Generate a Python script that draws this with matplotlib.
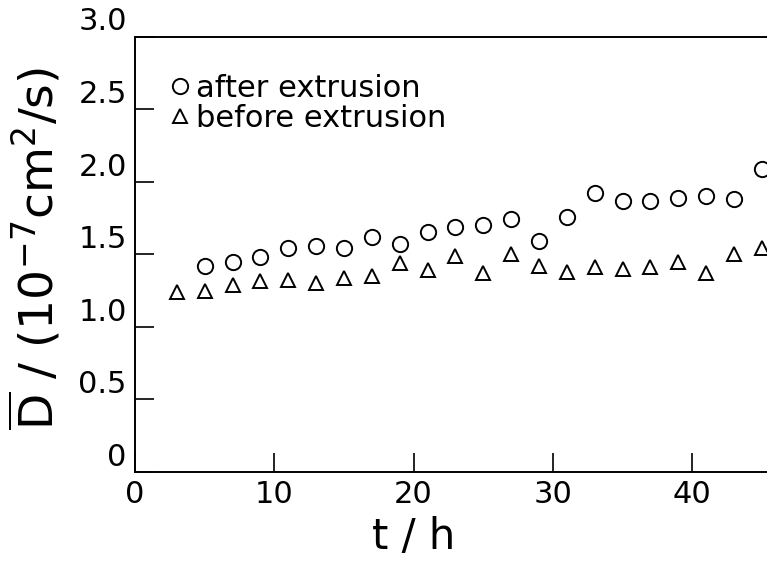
import numpy as np
import matplotlib
matplotlib.use("Agg")
import matplotlib.pyplot as plt

# diffusion coefficient vs time
t_after = [5, 7, 9, 11, 13, 15, 17, 19, 21, 23, 25, 27, 29, 31, 33, 35, 37, 39, 41, 43, 45]
d_after = [1.42, 1.45, 1.48, 1.54, 1.56, 1.54, 1.62, 1.57, 1.65, 1.69, 1.70, 1.74, 1.59, 1.76,
           1.92, 1.87, 1.87, 1.89, 1.90, 1.88, 2.09]

t_before = [3, 5, 7, 9, 11, 13, 15, 17, 19, 21, 23, 25, 27, 29, 31, 33, 35, 37, 39, 41, 43, 45]
d_before = [1.24, 1.25, 1.285, 1.315, 1.32, 1.305, 1.335, 1.35, 1.44, 1.39, 1.485, 1.37, 1.50,
            1.42, 1.38, 1.415, 1.40, 1.415, 1.45, 1.37, 1.505, 1.545]

x_ticks = [0, 10, 20, 30, 40]
y_ticks = [0, 0.5, 1.0, 1.5, 2.0, 2.5, 3.0]
y_tick_labels = ['0', '0.5', '1.0', '1.5', '2.0', '2.5', '3.0']

plt.rcParams['font.family'] = ['DejaVu Sans']
plt.rcParams['mathtext.fontset'] = 'dejavusans'

fig = plt.figure(figsize=(7.67, 5.62), dpi=100)
# axes runs past the right edge of the picture, as in the original scan
ax = fig.add_axes([135 / 767, 90 / 562, 50 * 13.93 / 767, 435.5 / 562])

ax.plot(t_after, d_after, 'o', ms=11, mfc='none', mec='black', mew=1.4,
        label='after extrusion')
ax.plot(t_before, d_before, '^', ms=10, mfc='none', mec='black', mew=1.4,
        label='before extrusion')

ax.set_xlim(0, 50)
ax.set_ylim(0, 3.0)
ax.set_xticks(x_ticks)
ax.set_yticks(y_ticks)
ax.set_yticklabels(y_tick_labels)
ax.tick_params(direction='in', length=14, width=1.2, labelsize=22, pad=6)
for lbl in ax.get_yticklabels():
    lbl.set_va('bottom')
for sp in ax.spines.values():
    sp.set_linewidth(1.4)

ax.set_xlabel('t / h', fontsize=30)
ax.xaxis.set_label_coords(20 / 50, -0.10)
ax.set_ylabel(r'$\overline{\mathrm{D}}$ / (10$^{-7}$cm$^{2}$/s)', fontsize=34)
ax.yaxis.set_label_coords(-0.103, 0.514)

ax.legend(loc='upper left', bbox_to_anchor=(0.03, 0.95), frameon=False, fontsize=22,
          handlelength=0.6, handletextpad=0.2, labelspacing=0.05, borderpad=0)

fig.savefig('out.png', dpi=100)
